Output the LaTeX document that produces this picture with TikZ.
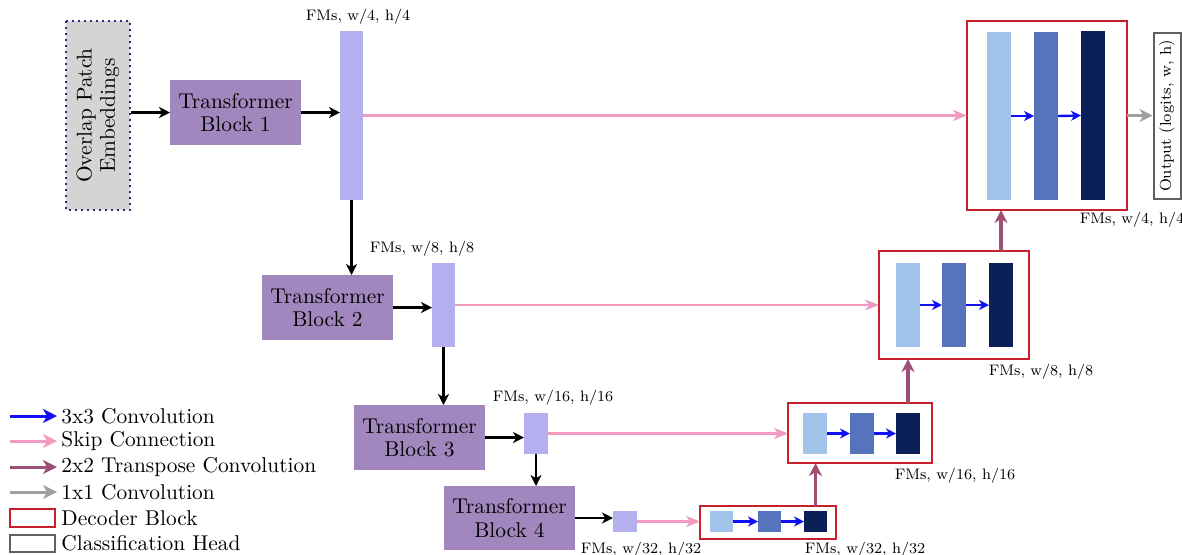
\documentclass[tikz,border=0pt]{standalone}
\usepackage{fontspec}
\usetikzlibrary{arrows.meta}
\definecolor{tbfill}{HTML}{A286BE}
\definecolor{fmfill}{HTML}{B4AFEF}
\definecolor{opefill}{HTML}{D4D4D4}
\definecolor{opeborder}{HTML}{2C2C78}
\definecolor{decred}{HTML}{C8202A}
\definecolor{chgray}{HTML}{606060}
\definecolor{lb}{HTML}{A3C4EA}
\definecolor{mb}{HTML}{5674BB}
\definecolor{nb}{HTML}{0B2057}
\definecolor{convblue}{HTML}{1010F5}
\definecolor{skippink}{HTML}{F29BC0}
\definecolor{tmaroon}{HTML}{9E4F75}
\definecolor{onegray}{HTML}{A0A0A0}
\begin{document}
\begin{tikzpicture}[x=0.5pt,y=-0.5pt,
  mainfont/.style={font=\fontsize{10.7}{11.6}\selectfont},
  tbox/.style={fill=tbfill, minimum width=65.5pt, minimum height=32.5pt, inner sep=0pt, outer sep=0pt, align=center, mainfont},
  fmbox/.style={fill=fmfill, inner sep=0pt, outer sep=0pt},
  dec/.style={draw=decred, line width=1.2pt, inner sep=0pt, outer sep=0pt, fill=white},
  lblock/.style={fill=lb, inner sep=0pt, outer sep=0pt},
  mblock/.style={fill=mb, inner sep=0pt, outer sep=0pt},
  nblock/.style={fill=nb, inner sep=0pt, outer sep=0pt},
  lbl/.style={font=\fontsize{7.6}{9}\selectfont, inner sep=0pt},
  legtext/.style={mainfont, inner sep=0pt, anchor=west},
  blk/.style={-{Stealth[length=5.5pt,width=5.5pt,inset=1.6pt]}, line width=1.1pt, black},
  skip/.style={-{Stealth[length=7pt,width=5.5pt,inset=2pt]}, line width=1.1pt, draw=skippink},
  conv/.style={-{Stealth[length=5pt,width=5pt,inset=1.5pt]}, line width=1.2pt, draw=convblue},
  tconv/.style={-{Stealth[length=6.5pt,width=6.5pt,inset=2pt]}, line width=1.6pt, draw=tmaroon},
  oneconv/.style={-{Stealth[length=6.5pt,width=6.5pt,inset=2pt]}, line width=1.4pt, draw=onegray},
  legarrow/.style={-{Stealth[length=7pt,width=7pt,inset=2pt]}, line width=1.5pt}
]
\useasboundingbox (0,0) rectangle (1182,554);

% Encoder
\node[rotate=90, fill=opefill, draw=opeborder, dotted, line width=1pt, minimum width=94.5pt, minimum height=32pt, inner sep=0pt, align=center, mainfont] (ope) at (98,115.5) {Overlap Patch\\Embeddings};
\node[tbox] (tb1) at (235.5,112.5) {Transformer\\Block 1};
\node[fmbox, minimum width=11.5pt, minimum height=84.5pt] (fm1) at (351.5,115.5) {};
\node[tbox] (tb2) at (327.5,307.5) {Transformer\\Block 2};
\node[fmbox, minimum width=11.5pt, minimum height=42pt] (fm2) at (443.5,305) {};
\node[tbox] (tb3) at (419.5,437.5) {Transformer\\Block 3};
\node[fmbox, minimum width=12pt, minimum height=20.5pt] (fm3) at (536,433.5) {};
\node[tbox, minimum height=32pt] (tb4) at (509.5,518) {Transformer\\Block 4};
\node[fmbox, minimum width=12pt, minimum height=10.5pt] (fm4) at (625,521.5) {};

% Decoder blocks
\node[dec, minimum width=80pt, minimum height=94.5pt] (dec1) at (1047,115.5) {};
\node[lblock, minimum width=12pt, minimum height=84pt] (b11) at (999,116) {};
\node[mblock, minimum width=12pt, minimum height=84pt] (b12) at (1046,116) {};
\node[nblock, minimum width=12pt, minimum height=84.5pt] (b13) at (1093,115.5) {};

\node[dec, minimum width=75pt, minimum height=54pt] (dec2) at (954,305) {};
\node[lblock, minimum width=12pt, minimum height=42pt] (b21) at (908,305) {};
\node[mblock, minimum width=12pt, minimum height=42pt] (b22) at (954,305) {};
\node[nblock, minimum width=12pt, minimum height=42pt] (b23) at (1001,305) {};

\node[dec, minimum width=72pt, minimum height=30pt] (dec3) at (860,433) {};
\node[lblock, minimum width=12pt, minimum height=20.5pt] (b31) at (815,433.5) {};
\node[mblock, minimum width=12pt, minimum height=20.5pt] (b32) at (862,433.5) {};
\node[nblock, minimum width=12pt, minimum height=20.5pt] (b33) at (908,433.5) {};

\node[dec, minimum width=68pt, minimum height=16.5pt] (dec4) at (768,522.5) {};
\node[lblock, minimum width=11.5pt, minimum height=10.5pt] (b41) at (721.5,521.5) {};
\node[mblock, minimum width=11.5pt, minimum height=10.5pt] (b42) at (769.5,521.5) {};
\node[nblock, minimum width=11.5pt, minimum height=10.5pt] (b43) at (815.5,521.5) {};

% Classification head
\node[rotate=90, draw=chgray, line width=1pt, minimum width=83pt, minimum height=13.5pt, inner sep=0pt, font=\fontsize{7.8}{9}\selectfont] (ch) at (1167,116) {Output (logits, w, h)};

% Labels
\node[lbl] (l1) at (358,17) {FMs, w/4, h/4};
\node[lbl] (l2) at (422,249) {FMs, w/8, h/8};
\node[lbl] (l3) at (553,398) {FMs, w/16, h/16};
\node[lbl, anchor=north] (l4) at (641,542) {FMs, w/32, h/32};
\node[lbl, anchor=north] (d4) at (865,542) {FMs, w/32, h/32};
\node[lbl] (d3) at (955,476) {FMs, w/16, h/16};
\node[lbl] (d2) at (1041,372) {FMs, w/8, h/8};
\node[lbl] (d1) at (1132,220) {FMs, w/4, h/4};

% Encoder connectors
\draw[blk] (ope.south |- tb1.west) -- (tb1.west);
\draw[blk] (tb1.east) -- (tb1.east -| fm1.west);
\draw[blk] (fm1.south) -- (fm1.south |- tb2.north);
\draw[blk] (tb2.east) -- (tb2.east -| fm2.west);
\draw[blk] (fm2.south) -- (fm2.south |- tb3.north);
\draw[blk] (tb3.east) -- (tb3.east -| fm3.west);
\draw[blk] (fm3.south) -- (fm3.south |- tb4.north);
\draw[blk] (tb4.east) -- (tb4.east -| fm4.west);

% Skip connections
\draw[skip] (fm1.east) -- (fm1.east -| dec1.west);
\draw[skip] (fm2.east) -- (fm2.east -| dec2.west);
\draw[skip] (fm3.east) -- (fm3.east -| dec3.west);
\draw[skip] (fm4.east) -- (fm4.east -| dec4.west);

% 3x3 convs
\draw[conv] (b11.east) -- (b12.west);
\draw[conv] (b12.east) -- (b13.west);
\draw[conv] (b21.east) -- (b22.west);
\draw[conv] (b22.east) -- (b23.west);
\draw[conv] (b31.east) -- (b32.west);
\draw[conv] (b32.east) -- (b33.west);
\draw[conv] (b41.east) -- (b42.west);
\draw[conv] (b42.east) -- (b43.west);

% Transpose convs
\draw[tconv] (b43 |- dec4.north) -- (b43 |- dec3.south);
\draw[tconv] (b33 |- dec3.north) -- (b33 |- dec2.south);
\draw[tconv] (b23 |- dec2.north) -- (b23 |- dec1.south);

% 1x1 conv
\draw[oneconv] (dec1.east) -- (dec1.east -| ch.north);

% Legend
\coordinate (g1a) at (10,416); \coordinate (g1b) at (57,416);
\coordinate (g2a) at (10,441); \coordinate (g2b) at (57,441);
\coordinate (g3a) at (10,467); \coordinate (g3b) at (57,467);
\coordinate (g4a) at (10,492); \coordinate (g4b) at (57,492);
\draw[legarrow, draw=convblue] (g1a) -- (g1b);
\draw[legarrow, draw=skippink] (g2a) -- (g2b);
\draw[legarrow, draw=tmaroon] (g3a) -- (g3b);
\draw[legarrow, draw=onegray] (g4a) -- (g4b);
\node[legtext] (t1) at (61,416) {3x3 Convolution};
\node[legtext] (t2) at (61,441) {Skip Connection};
\node[legtext] (t3) at (61,467) {2x2 Transpose Convolution};
\node[legtext] (t4) at (61,492) {1x1 Convolution};
\node[dec, minimum width=22.5pt, minimum height=9pt] (g5) at (32.5,518) {};
\node[draw=chgray, line width=1pt, inner sep=0pt, minimum width=22.5pt, minimum height=8.5pt] (g6) at (32.5,543.5) {};
\node[legtext] (t5) at (61,518) {Decoder Block};
\node[legtext] (t6) at (61,543.5) {Classification Head};
\end{tikzpicture}
\end{document}
